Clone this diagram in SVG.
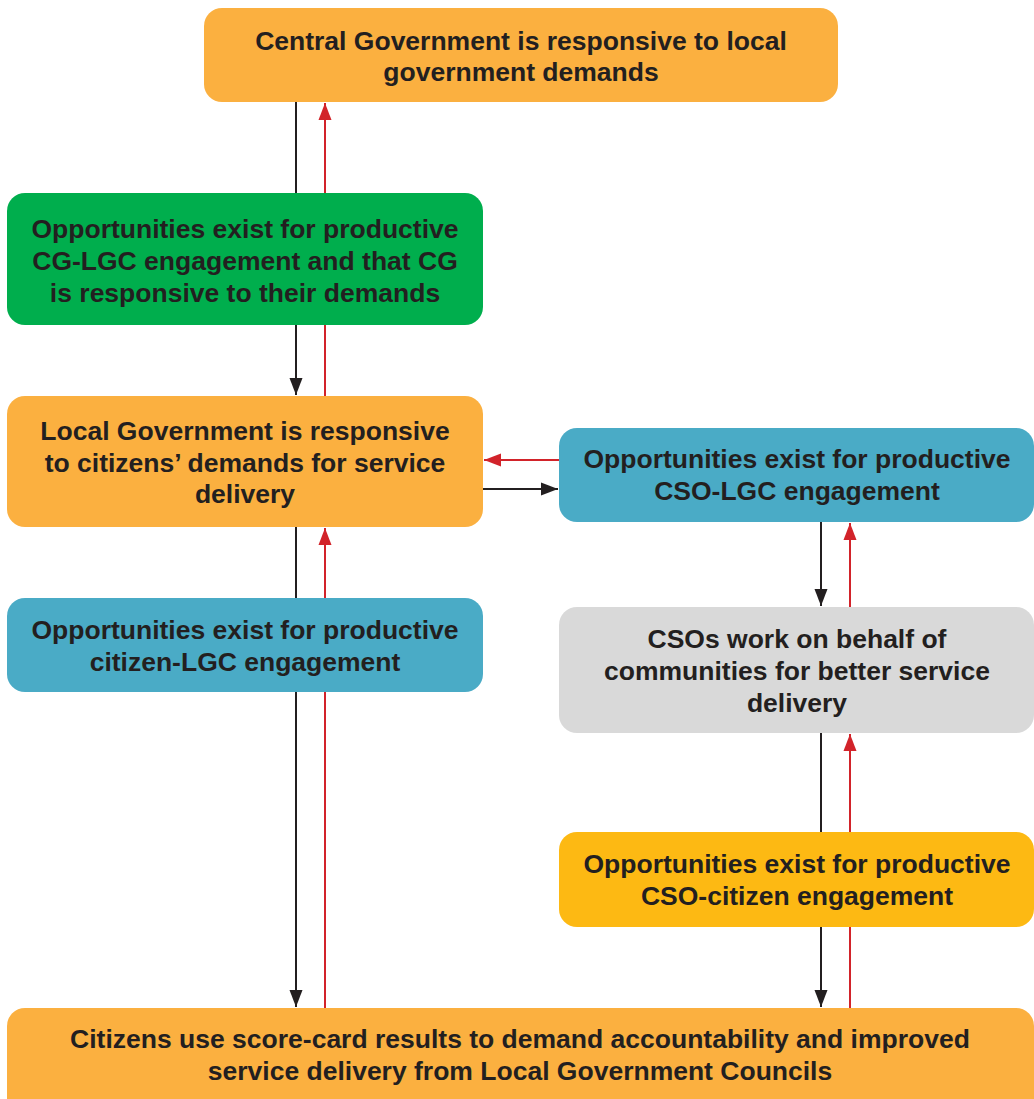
<svg xmlns="http://www.w3.org/2000/svg" width="1034" height="1099" viewBox="0 0 1034 1099">
<style>
.t{font-family:"Liberation Sans",Arial,Helvetica,sans-serif;font-weight:bold;font-size:26.5px;fill:#231F20;text-anchor:middle}
.blk{stroke:#231F20;stroke-width:2;fill:none}
.red{stroke:#D2232A;stroke-width:2;fill:none}
.orange{fill:#FBB040}
.green{fill:#00AE4D}
.blue{fill:#4AABC6}
.grey{fill:#D9D9D9}
.yellow{fill:#FDB913}
</style>
<defs>
<marker id="ab" markerUnits="userSpaceOnUse" markerWidth="17" markerHeight="14" refX="17" refY="7" orient="auto">
<path d="M0,0.5 L17,7 L0,13.5 z" fill="#231F20"/>
</marker>
<marker id="ar" markerUnits="userSpaceOnUse" markerWidth="17" markerHeight="14" refX="17" refY="7" orient="auto">
<path d="M0,0.5 L17,7 L0,13.5 z" fill="#D2232A"/>
</marker>
</defs>
<g id="connectors">
<path class="blk" d="M296,102 V395" marker-end="url(#ab)"/>
<path class="red" d="M325,396 V103" marker-end="url(#ar)"/>
<path class="blk" d="M296,527 V1007" marker-end="url(#ab)"/>
<path class="red" d="M325,1008 V528" marker-end="url(#ar)"/>
<path class="red" d="M559,460 H484" marker-end="url(#ar)"/>
<path class="blk" d="M483,489 H558" marker-end="url(#ab)"/>
<path class="blk" d="M821,522 V606" marker-end="url(#ab)"/>
<path class="red" d="M850,607 V523" marker-end="url(#ar)"/>
<path class="blk" d="M821,733 V1007" marker-end="url(#ab)"/>
<path class="red" d="M850,1008 V734" marker-end="url(#ar)"/>
</g>
<g id="central-gov">
<rect class="orange" x="204" y="8" width="634" height="94" rx="18"/>
<text class="t" x="521" y="50">Central Government is responsive to local</text>
<text class="t" x="521" y="81">government demands</text>
</g>
<g id="cg-lgc">
<rect class="green" x="7" y="193" width="476" height="132" rx="18"/>
<text class="t" x="245" y="238">Opportunities exist for productive</text>
<text class="t" x="245" y="270">CG-LGC engagement and that CG</text>
<text class="t" x="245" y="302">is responsive to their demands</text>
</g>
<g id="local-gov">
<rect class="orange" x="7" y="396" width="476" height="131" rx="18"/>
<text class="t" x="245" y="440">Local Government is responsive</text>
<text class="t" x="245" y="472">to citizens’ demands for service</text>
<text class="t" x="245" y="503">delivery</text>
</g>
<g id="citizen-lgc">
<rect class="blue" x="7" y="598" width="476" height="94" rx="18"/>
<text class="t" x="245" y="639">Opportunities exist for productive</text>
<text class="t" x="245" y="671">citizen-LGC engagement</text>
</g>
<g id="cso-lgc">
<rect class="blue" x="559" y="428" width="475" height="94" rx="18"/>
<text class="t" x="797" y="468">Opportunities exist for productive</text>
<text class="t" x="797" y="500">CSO-LGC engagement</text>
</g>
<g id="csos-work">
<rect class="grey" x="559" y="607" width="475" height="126" rx="18"/>
<text class="t" x="797" y="648">CSOs work on behalf of</text>
<text class="t" x="797" y="680">communities for better service</text>
<text class="t" x="797" y="712">delivery</text>
</g>
<g id="cso-citizen">
<rect class="yellow" x="559" y="832" width="475" height="95" rx="18"/>
<text class="t" x="797" y="873">Opportunities exist for productive</text>
<text class="t" x="797" y="905">CSO-citizen engagement</text>
</g>
<g id="citizens">
<rect class="orange" x="7" y="1008" width="1027" height="110" rx="18"/>
<text class="t" x="520" y="1048">Citizens use score-card results to demand accountability and improved</text>
<text class="t" x="520" y="1080">service delivery from Local Government Councils</text>
</g>
</svg>
